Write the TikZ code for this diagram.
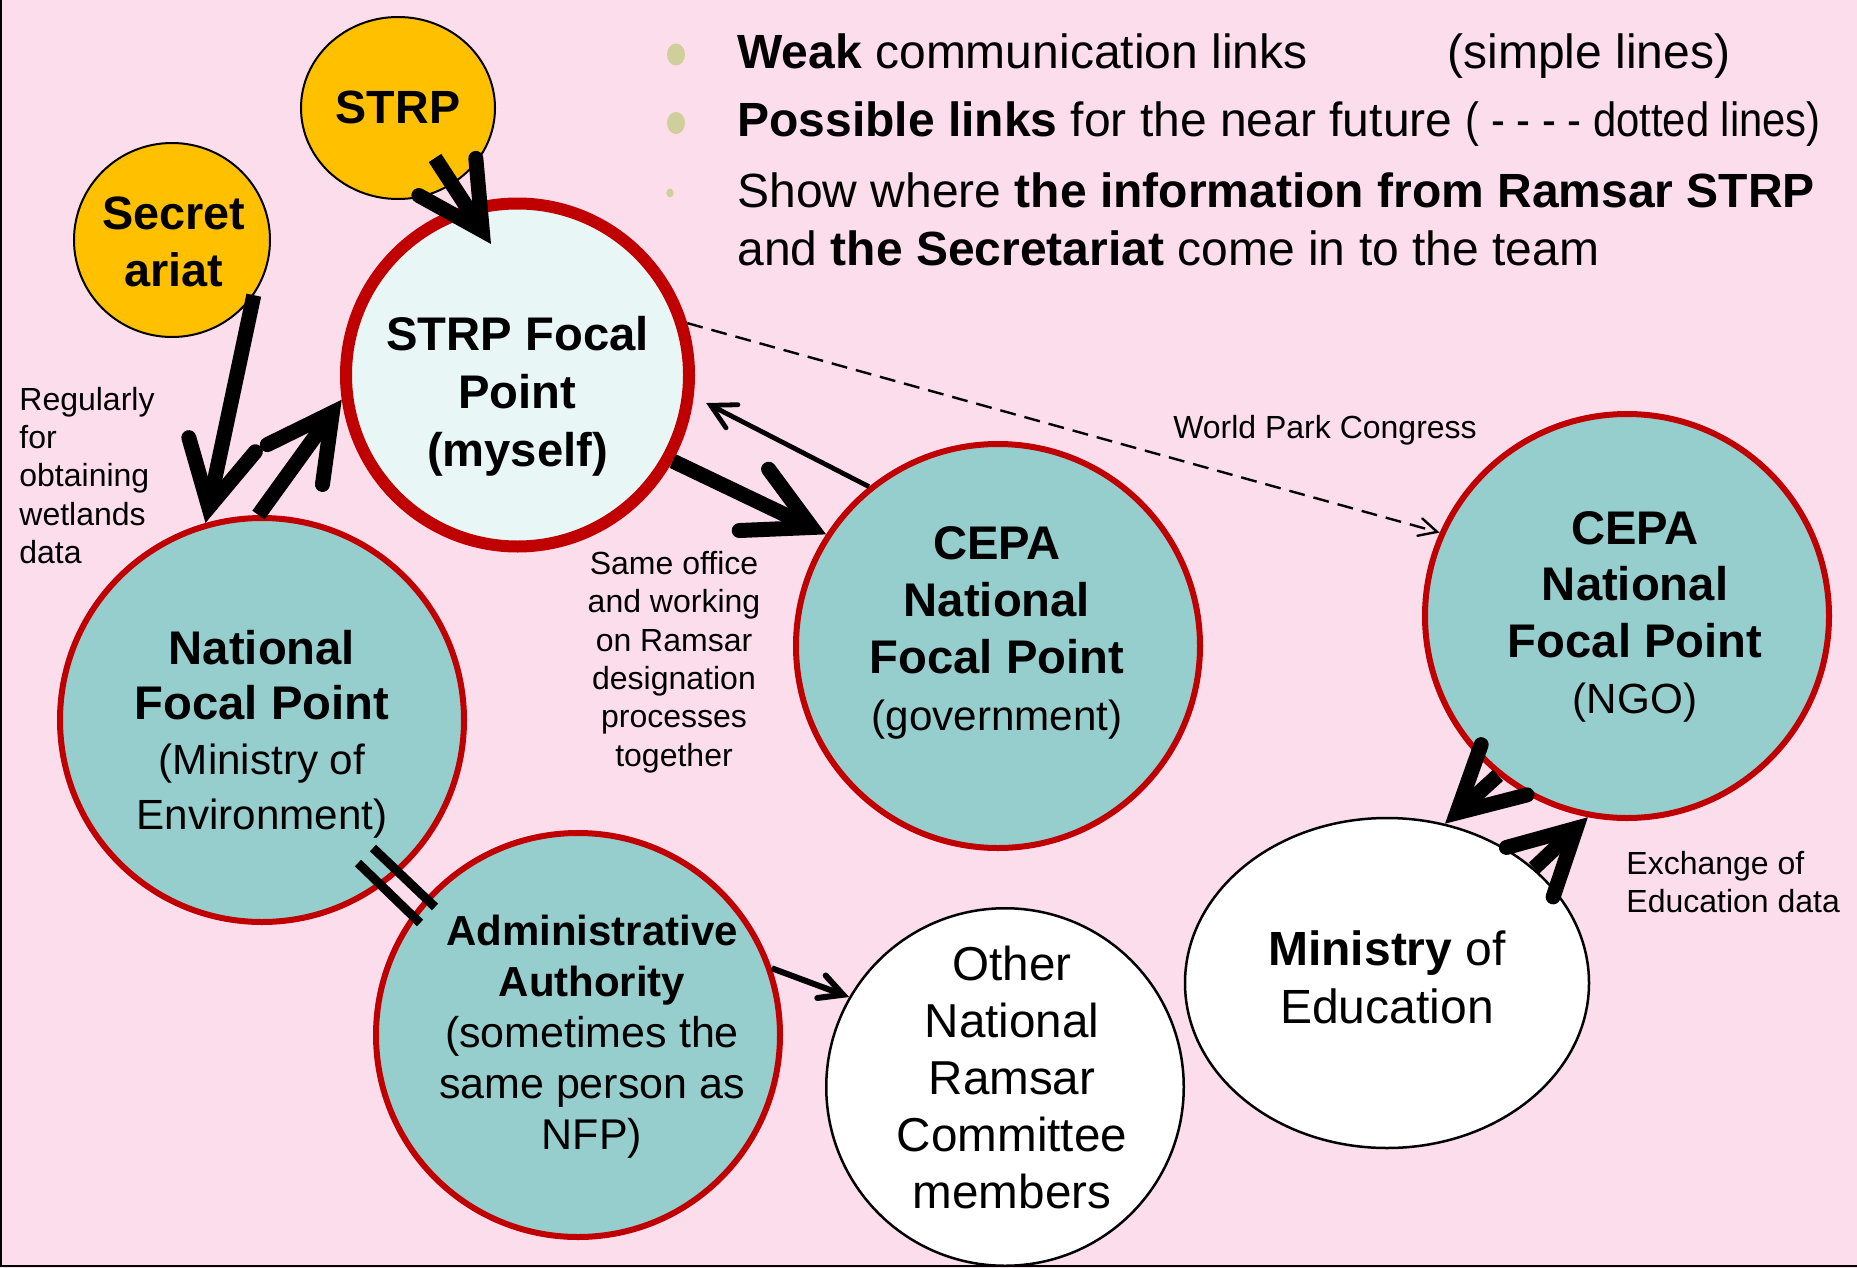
\documentclass[tikz,border=0pt]{standalone}
\usepackage{fontspec}
\usepackage{graphicx}
\setmainfont{Liberation Sans}
\usetikzlibrary{arrows.meta,shapes.geometric}
\definecolor{bgpink}{RGB}{252,221,236}
\definecolor{tealfill}{RGB}{150,205,205}
\definecolor{ringred}{RGB}{192,0,0}
\definecolor{goldfill}{RGB}{255,192,0}
\definecolor{palecyan}{RGB}{232,246,246}
\definecolor{bulletolive}{RGB}{207,207,155}
\newcommand\Bt[1]{{\fontsize{23.6}{28}\selectfont\bfseries #1}}
\newcommand\Ba[1]{{\fontsize{21}{25}\selectfont\bfseries #1}}
\begin{document}
\begin{tikzpicture}[x=0.5pt,y=-0.5pt,
  tealc/.style={circle, draw=ringred, fill=tealfill, line width=3pt, minimum size=202pt, inner sep=0pt},
  sfpc/.style={circle, draw=ringred, fill=palecyan, line width=6pt, minimum size=171.5pt, inner sep=0pt},
  whitec/.style={ellipse, draw=black, fill=white, line width=1.25pt, inner sep=0pt},
  goldc/.style={ellipse, draw=black, fill=goldfill, line width=1pt, inner sep=0pt},
  txt/.style={align=center, inner sep=0pt},
  lbl/.style={inner sep=0pt, font=\fontsize{16}{19.2}\selectfont},
  btxt/.style={inner sep=0pt, anchor=base west, font=\fontsize{24}{29}\selectfont},
  thickarr/.style={line width=7.5pt, -{Straight Barb[length=32pt,width=34pt,line cap=round,line join=miter]}},
  thinarr/.style={line width=2.4pt, -{Straight Barb[length=12pt,width=13pt,line cap=round,line join=miter]}},
  medarr/.style={line width=3pt, -{Straight Barb[length=11.5pt,width=12pt,line cap=round,line join=miter]}},
  dasharr/.style={line width=1.2pt, dash pattern=on 8pt off 4.5pt, -{Straight Barb[length=9pt,width=9pt,line cap=round,line join=miter]}},
  bar/.style={line width=4.5pt}
]
\useasboundingbox (0,0) rectangle (1857,1268);
\fill[bgpink] (0,0) rectangle (1857,1268);
\draw[line width=1pt] (1,0) -- (1,1266) -- (1857,1266);

% bullets
\fill[bulletolive] (676,54.5) ellipse [x radius=4.5pt, y radius=5.5pt];
\fill[bulletolive] (676,123) ellipse [x radius=4.5pt, y radius=5.5pt];
\fill[bulletolive] (670,193) ellipse [x radius=1.8pt, y radius=2.2pt];
\node[btxt] (b1) at (737,69) {\textbf{Weak} communication links};
\node[btxt] (b1r) at (1447,69) {(simple lines)};
\node[btxt] (b2) at (737,137) {\textbf{Possible links} for the near future \scalebox{0.87}[1]{( - - - - dotted lines)}};
\node[btxt] (b3) at (737,207) {Show where \textbf{the information from Ramsar STRP}};
\node[btxt] (b4) at (737,265) {and \textbf{the Secretariat} come in to the team};

% circles
\node[tealc] (nfp) at (262,720) {};
\node[tealc] (gov) at (998,646) {};
\node[tealc] (ngo) at (1627,616) {};
\node[tealc] (adm) at (578,1035) {};
\node[sfpc] (sfp) at (517.5,375) {};
\node[whitec, minimum width=178.75pt, minimum height=178.75pt] (oth) at (1005,1087) {};
\node[whitec, minimum width=202pt, minimum height=165pt] (min) at (1387,983) {};
\node[goldc, minimum width=97pt, minimum height=91pt] (strp) at (398,108) {};
\node[goldc, minimum width=98pt, minimum height=97pt] (sec) at (172,240) {};

% circle texts
\node[txt, font=\fontsize{23.6}{29}\selectfont\bfseries] (sfpt) at (517.5,396) {STRP Focal\\Point\\(myself)};
\node[txt, font=\fontsize{21.1}{27.5}\selectfont] (nfpt) at (262,734.5) {\Bt{National}\\\Bt{Focal Point}\\(Ministry of\\Environment)};
\node[txt, font=\fontsize{21.1}{28.5}\selectfont] (govt) at (997,633) {\Bt{CEPA}\\\Bt{National}\\\Bt{Focal Point}\\(government)};
\node[txt, font=\fontsize{21.1}{28.2}\selectfont] (ngot) at (1635,617) {\Bt{CEPA}\\\Bt{National}\\\Bt{Focal Point}\\(NGO)};
\node[txt, font=\fontsize{21.5}{25.5}\selectfont] (admt) at (592,1037) {\Ba{Administrative}\\\Ba{Authority}\\(sometimes the\\same person as\\NFP)};
\node[txt, font=\fontsize{23.8}{28.5}\selectfont] (otht) at (1012,1077.5) {Other\\National\\Ramsar\\Committee\\members};
\node[txt, font=\fontsize{24}{29}\selectfont] (mint) at (1387,977) {\textbf{Ministry} of\\Education};
\node[txt, font=\fontsize{23.3}{28}\selectfont\bfseries] (strpt) at (398,107) {STRP};
\node[txt, font=\fontsize{23.4}{28.5}\selectfont\bfseries] (sect) at (174,242) {Secret\\ariat};

% labels
\node[lbl, align=left, anchor=west] (lreg) at (19,475.5) {Regularly\\for\\obtaining\\wetlands\\data};
\node[lbl, align=center] (lsame) at (674,662) {Same office\\and working\\on Ramsar\\designation\\processes\\together};
\node[lbl] (lwpc) at (1325,430) {World Park Congress};
\node[lbl, align=left, anchor=west] (lexc) at (1626,882) {Exchange of\\Education data};

% connectors
\coordinate (a1s) at (435,158);
\coordinate (a1e) at (491,244);
\draw[thickarr] (a1s) -- (a1e);
\draw[thickarr] (sec.-34) -- (nfp.106);
\draw[thickarr] (nfp.91) -- (sfp.188);
\draw[thickarr] (sfp.-29) -- (gov.147);
\draw[thinarr, shorten >=7pt] (gov.129) -- (sfp.-7);
\draw[dasharr] (sfp.17) -- (ngo.156);
\draw[medarr] (adm.19) -- (oth.150);
\draw[thickarr] (ngo.-129) -- (min.70);
\draw[thickarr] (min.38) -- (ngo.-101);

% double link NFP = Administrative Authority
\coordinate (d1s) at (358,863);
\coordinate (d1e) at (420,923);
\coordinate (d2s) at (373,848);
\coordinate (d2e) at (435,907);
\draw[bar] (d1s) -- (d1e);
\draw[bar] (d2s) -- (d2e);
\end{tikzpicture}
\end{document}
